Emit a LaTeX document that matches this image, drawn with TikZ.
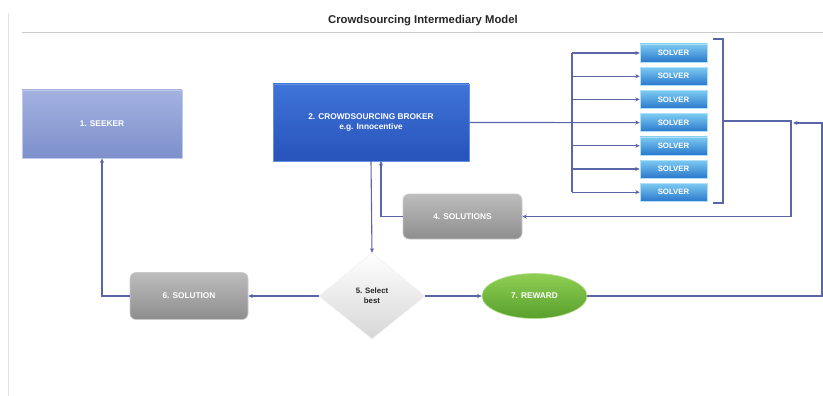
\documentclass[tikz,border=0pt]{standalone}
\usepackage{fontspec}
\setmainfont{Liberation Sans}
\usetikzlibrary{shapes.geometric,arrows.meta}

\definecolor{linec}{HTML}{5B66A8}
\definecolor{seekT}{HTML}{A3B2E0}
\definecolor{seekB}{HTML}{7D90CC}
\definecolor{brokT}{HTML}{3F74D8}
\definecolor{brokB}{HTML}{2753BA}
\definecolor{solvT}{HTML}{7CCBF2}
\definecolor{solvB}{HTML}{2A78CC}
\definecolor{grayT}{HTML}{BDBDBD}
\definecolor{grayB}{HTML}{8E8E8E}
\definecolor{rewT}{HTML}{8FCF55}
\definecolor{rewB}{HTML}{58A02C}

\tikzset{
  conn/.style={draw=linec, line width=1.1pt},
  arr/.style={conn, -{Stealth[length=4.5pt,width=4pt]}},
  lbl/.style={text=white, font=\fontsize{8.3}{9.5}\selectfont\bfseries, align=center},
  seekbox/.style={rectangle, minimum width=160pt, minimum height=68pt, inner sep=0pt,
    top color=seekT, bottom color=seekB, draw=seekT!70!white, line width=0.8pt, lbl},
  brokbox/.style={rectangle, minimum width=196pt, minimum height=77pt, inner sep=0pt,
    top color=brokT, bottom color=brokB, draw=brokT!80!white, line width=0.8pt, lbl},
  solvbox/.style={rectangle, minimum width=67pt, minimum height=18pt, inner sep=0pt,
    top color=solvT, bottom color=solvB, draw=solvT!60!white, line width=0.5pt, lbl,
    font=\fontsize{7.8}{9}\selectfont\bfseries},
  graybox/.style={rectangle, rounded corners=6pt, inner sep=0pt,
    top color=grayT, bottom color=grayB, draw=grayT!80!white, line width=0.6pt, lbl},
  rewshape/.style={ellipse, minimum width=105pt, minimum height=45pt, inner sep=0pt,
    top color=rewT, bottom color=rewB, draw=rewT!70!white, line width=0.6pt, lbl},
  selshape/.style={diamond, minimum width=106pt, minimum height=86pt, inner sep=0pt,
    top color=white, middle color=white, bottom color=gray!32, draw=gray!12, line width=0.5pt,
    font=\fontsize{7.8}{10}\selectfont\bfseries, align=center, text=black!85}
}

\begin{document}
\begin{tikzpicture}[x=1pt, y=-1pt]
  \useasboundingbox[fill=white] (0,0) rectangle (823,396);

  % page frame and header
  \coordinate (frTop) at (8,13);
  \coordinate (frBot) at (8,396);
  \coordinate (hdL) at (22,32);
  \coordinate (hdR) at (823,32);
  \draw[gray!22, line width=1pt] (frTop) -- (frBot);
  \draw[gray!40, line width=0.9pt] (hdL) -- (hdR);
  \node[font=\fontsize{11.3}{13}\selectfont\bfseries, text=black!85] (title) at (423,21)
    {Crowdsourcing Intermediary Model};

  % main nodes
  \node[seekbox] (seeker) at (102,124) {1. SEEKER};
  \node[brokbox] (broker) at (371,122.5) {2. CROWDSOURCING BROKER\\e.g. Innocentive};
  \node[graybox, minimum width=119pt, minimum height=45pt] (sol4) at (462.5,216.5) {4. SOLUTIONS};
  \node[selshape] (sel) at (372,296) {5. Select\\best};
  \node[graybox, minimum width=118pt, minimum height=47pt] (sol6) at (189,296) {6. SOLUTION};
  \node[rewshape] (reward) at (534.5,296) {7. REWARD};

  % solver column
  \foreach \i in {1,...,7}{
    \node[solvbox] (s\i) at (673.5,{53+23.2*(\i-1)}) {SOLVER};
  }

  % broker to solvers
  \draw[arr] (broker.east) -- (s4.west);
  \coordinate (fanTop) at (572,53);
  \coordinate (fanBot) at (572,192.2);
  \draw[conn] (fanTop) -- (fanBot);
  \foreach \i in {1,2,3,5,6,7}{
    \draw[arr] (s\i.west -| fanTop) -- (s\i.west);
  }

  % bracket gathering the solvers
  \coordinate (brTopL) at (713,39);
  \coordinate (brTop) at (723,39);
  \coordinate (brBot) at (723,203);
  \coordinate (brBotL) at (713,203);
  \coordinate (brMid) at (723,121);
  \draw[conn] (brTopL) -- (brTop) -- (brBot) -- (brBotL);

  % solutions back to the broker
  \draw[arr] (brMid) -- (791,121) -- (791,216.5) -- (sol4.east);
  \draw[arr] (sol4.west) -- (381,216.5) -- (381,161);

  % broker to selection
  \draw[arr] (371,161) -- (sel.north);

  % selection to seeker and reward
  \draw[arr] (sel.west) -- (sol6.east);
  \draw[arr] (sol6.west) -- (102,296) -- (seeker.south);
  \draw[arr] (sel.east) -- (reward.west);

  % reward loop back
  \coordinate (rwEnd) at (793,123);
  \draw[arr] (reward.east) -- (822,296) -- (822,123) -- (rwEnd);
\end{tikzpicture}
\end{document}
